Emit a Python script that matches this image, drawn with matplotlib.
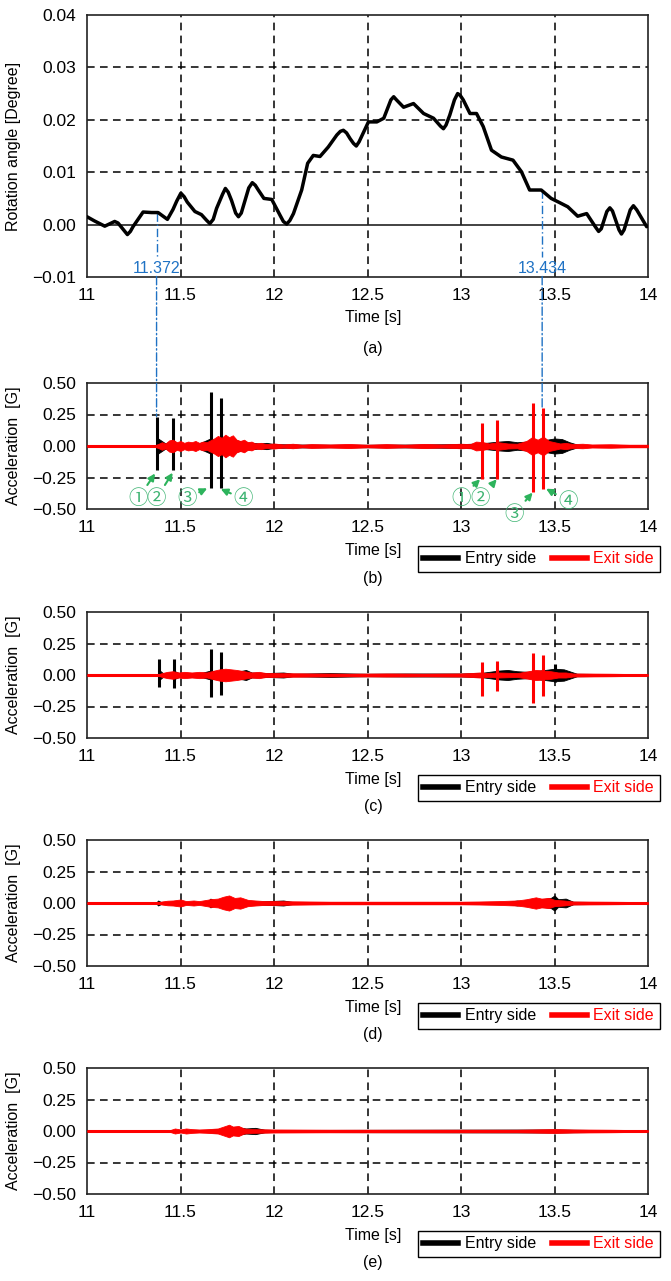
import numpy as np
import matplotlib.pyplot as plt
from matplotlib.patches import ConnectionPatch
from matplotlib.lines import Line2D

plt.rcParams['font.family'] = ['Liberation Sans', 'DejaVu Sans']
plt.rcParams['font.size'] = 11.5

# (a) rotation angle
rot_t = [11.0, 11.04, 11.095, 11.148, 11.166, 11.2, 11.216, 11.232, 11.246, 11.3,
         11.345, 11.38, 11.43, 11.46, 11.48, 11.502, 11.52, 11.536, 11.577, 11.612,
         11.64, 11.657, 11.675, 11.693, 11.725, 11.74, 11.755, 11.773, 11.795, 11.81,
         11.825, 11.845, 11.865, 11.884, 11.9, 11.916, 11.946, 11.988, 12.032, 12.05,
         12.068, 12.085, 12.104, 12.148, 12.18, 12.21, 12.246, 12.29, 12.336, 12.355,
         12.371, 12.388, 12.407, 12.425, 12.44, 12.455, 12.48, 12.505, 12.55, 12.587,
         12.625, 12.64, 12.655, 12.693, 12.746, 12.8, 12.853, 12.89, 12.906, 12.92,
         12.94, 12.965, 12.982, 12.995, 13.012, 13.048, 13.083, 13.119, 13.163, 13.216,
         13.278, 13.323, 13.367, 13.429, 13.482, 13.527, 13.571, 13.624, 13.672, 13.72,
         13.736, 13.75, 13.78, 13.796, 13.81, 13.845, 13.858, 13.872, 13.905, 13.922,
         13.94, 13.993]
rot_v = [0.0015, 0.0007, -0.0003, 0.0006, 0.0003, -0.0012, -0.0019, -0.0013, -0.0004, 0.0024,
         0.0023, 0.0023, 0.0010, 0.0029, 0.0045, 0.0060, 0.0053, 0.0043, 0.0025, 0.0019,
         0.0008, 0.0002, 0.0010, 0.0031, 0.0058, 0.0069, 0.0062, 0.0046, 0.0022, 0.0015,
         0.0022, 0.0046, 0.0070, 0.0080, 0.0075, 0.0066, 0.0050, 0.0048, 0.0018, 0.0006,
         0.0001, 0.0008, 0.0021, 0.0066, 0.0117, 0.0132, 0.0130, 0.0148, 0.0171, 0.0178,
         0.0180, 0.0175, 0.0164, 0.0155, 0.0150, 0.0158, 0.0177, 0.0196, 0.0196, 0.0203,
         0.0238, 0.0244, 0.0238, 0.0224, 0.0231, 0.0212, 0.0203, 0.0188, 0.0183, 0.0190,
         0.0209, 0.0238, 0.0250, 0.0247, 0.0238, 0.0212, 0.0212, 0.0187, 0.0142, 0.0129,
         0.0123, 0.0101, 0.0066, 0.0066, 0.0050, 0.0042, 0.0034, 0.0016, 0.0021, -0.0005,
         -0.0013, -0.0008, 0.0025, 0.0032, 0.0026, -0.0010, -0.0018, -0.0010, 0.0028, 0.0036,
         0.0028, -0.0004]

mark_t = [11.372, 13.434]
mark_v = [0.0023, 0.0066]
mark_top_b = [0.235, 0.30]

# acceleration panels (b)-(e): spikes (time, max, min)
entry_spike_t = [[11.375, 11.462, 11.661, 11.715],
                 [11.385, 11.467, 11.663, 11.717, 13.50],
                 [], []]
entry_spike_hi = [[0.233, 0.22, 0.43, 0.378],
                  [0.125, 0.13, 0.21, 0.186, 0.086],
                  [], []]
entry_spike_lo = [[-0.19, -0.19, -0.336, -0.33],
                  [-0.096, -0.107, -0.176, -0.155, -0.056],
                  [], []]
exit_spike_t = [[13.11, 13.194, 13.387, 13.44],
                [13.112, 13.193, 13.387, 13.44],
                [], []]
exit_spike_hi = [[0.18, 0.21, 0.344, 0.30],
                 [0.104, 0.11, 0.174, 0.16],
                 [], []]
exit_spike_lo = [[-0.264, -0.264, -0.363, -0.344],
                 [-0.163, -0.128, -0.222, -0.163],
                 [], []]

# vibration envelopes (half width of the band, G)
entry_noise_t = [
    [11.0, 11.37, 11.38, 11.40, 11.42, 11.46, 11.48, 11.52, 11.6, 11.66, 11.69, 11.72, 11.76,
     11.8, 11.84, 11.88, 11.92, 11.96, 12.0, 12.1, 12.3, 12.5, 12.8, 13.0, 13.1, 13.2, 13.25,
     13.3, 13.35, 13.4, 13.46, 13.5, 13.54, 13.58, 13.62, 13.7, 14.0],
    [11.0, 11.38, 11.39, 11.41, 11.47, 11.5, 11.6, 11.66, 11.7, 11.74, 11.8, 11.85, 11.88,
     11.95, 12.05, 12.1, 12.3, 12.5, 12.7, 13.0, 13.1, 13.2, 13.25, 13.3, 13.36, 13.45, 13.5,
     13.55, 13.58, 13.62, 14.0],
    [11.0, 11.37, 11.38, 11.4, 11.64, 11.66, 11.68, 11.72, 11.85, 11.9, 12.05, 12.1, 13.25,
     13.3, 13.35, 13.48, 13.5, 13.52, 13.56, 13.6, 14.0],
    [11.0, 11.6, 11.7, 11.75, 11.8, 11.85, 11.9, 11.95, 12.0, 13.5, 13.6, 14.0]]
entry_noise_a = [
    [0.003, 0.003, 0.06, 0.04, 0.02, 0.05, 0.02, 0.015, 0.02, 0.06, 0.04, 0.06, 0.05,
     0.045, 0.03, 0.025, 0.02, 0.025, 0.015, 0.012, 0.01, 0.01, 0.012, 0.015, 0.02, 0.035, 0.04,
     0.03, 0.035, 0.03, 0.05, 0.06, 0.055, 0.03, 0.012, 0.006, 0.004],
    [0.003, 0.003, 0.035, 0.01, 0.03, 0.01, 0.012, 0.035, 0.025, 0.03, 0.025, 0.04, 0.02,
     0.015, 0.02, 0.01, 0.015, 0.01, 0.012, 0.012, 0.015, 0.035, 0.04, 0.03, 0.025, 0.04, 0.05,
     0.045, 0.03, 0.01, 0.004],
    [0.002, 0.002, 0.02, 0.005, 0.005, 0.035, 0.02, 0.01, 0.02, 0.01, 0.02, 0.008, 0.008,
     0.02, 0.01, 0.04, 0.06, 0.03, 0.035, 0.01, 0.003],
    [0.002, 0.005, 0.015, 0.025, 0.03, 0.02, 0.025, 0.01, 0.008, 0.012, 0.01, 0.003]]
exit_noise_t = [
    [11.0, 11.36, 11.38, 11.40, 11.42, 11.44, 11.46, 11.48, 11.50, 11.52, 11.54, 11.56, 11.58,
     11.60, 11.62, 11.64, 11.66, 11.68, 11.70, 11.72, 11.74, 11.76, 11.78, 11.80, 11.82, 11.84,
     11.86, 11.88, 11.90, 11.93, 11.96, 12.0, 12.05, 12.1, 12.15, 12.2, 12.3, 12.4, 12.5, 12.6,
     12.7, 12.8, 12.9, 13.0, 13.05, 13.08, 13.12, 13.15, 13.2, 13.25, 13.3, 13.35, 13.38, 13.41,
     13.44, 13.47, 13.5, 13.53, 13.56, 13.6, 13.65, 13.7, 13.8, 13.9, 14.0],
    [11.0, 11.38, 11.40, 11.43, 11.46, 11.49, 11.52, 11.56, 11.6, 11.64, 11.68, 11.71, 11.74,
     11.77, 11.8, 11.84, 11.88, 11.92, 11.96, 12.0, 12.2, 12.4, 12.6, 12.8, 13.0, 13.05, 13.1,
     13.15, 13.2, 13.3, 13.36, 13.4, 13.44, 13.48, 13.52, 13.56, 13.6, 13.8, 14.0],
    [11.0, 11.38, 11.40, 11.43, 11.46, 11.5, 11.53, 11.57, 11.6, 11.66, 11.7, 11.73, 11.76,
     11.79, 11.82, 11.86, 11.9, 11.95, 12.0, 12.3, 12.6, 13.0, 13.1, 13.2, 13.3, 13.35, 13.4,
     13.43, 13.47, 13.5, 13.55, 13.6, 13.8, 14.0],
    [11.0, 11.44, 11.47, 11.5, 11.53, 11.56, 11.6, 11.65, 11.7, 11.74, 11.76, 11.78, 11.81,
     11.84, 11.88, 12.0, 12.3, 12.6, 13.0, 13.3, 13.5, 13.6, 13.8, 14.0]]
exit_noise_a = [
    [0.006, 0.006, 0.015, 0.03, 0.02, 0.045, 0.05, 0.03, 0.04, 0.025, 0.035, 0.03, 0.04,
     0.025, 0.035, 0.03, 0.045, 0.06, 0.08, 0.065, 0.09, 0.07, 0.085, 0.05, 0.04, 0.05,
     0.03, 0.035, 0.02, 0.025, 0.015, 0.02, 0.012, 0.018, 0.01, 0.015, 0.012, 0.016, 0.01, 0.015,
     0.01, 0.016, 0.012, 0.018, 0.015, 0.035, 0.03, 0.02, 0.03, 0.02, 0.018, 0.04, 0.07, 0.05,
     0.075, 0.04, 0.03, 0.02, 0.025, 0.015, 0.018, 0.012, 0.014, 0.01, 0.01],
    [0.005, 0.005, 0.015, 0.025, 0.03, 0.02, 0.025, 0.02, 0.025, 0.02, 0.035, 0.045, 0.05,
     0.045, 0.04, 0.03, 0.02, 0.025, 0.015, 0.015, 0.012, 0.01, 0.012, 0.01, 0.012, 0.015, 0.02,
     0.015, 0.02, 0.015, 0.03, 0.04, 0.035, 0.03, 0.02, 0.02, 0.012, 0.01, 0.006],
    [0.005, 0.005, 0.012, 0.018, 0.02, 0.028, 0.015, 0.02, 0.015, 0.03, 0.035, 0.05, 0.06,
     0.04, 0.045, 0.025, 0.02, 0.015, 0.015, 0.01, 0.01, 0.01, 0.012, 0.015, 0.02, 0.03, 0.045,
     0.035, 0.04, 0.025, 0.02, 0.012, 0.01, 0.007],
    [0.005, 0.005, 0.02, 0.012, 0.02, 0.015, 0.012, 0.015, 0.02, 0.04, 0.05, 0.035, 0.04,
     0.02, 0.015, 0.012, 0.01, 0.01, 0.01, 0.01, 0.015, 0.012, 0.01, 0.006]]

# circled-number callouts on panel (b): label, text pos, arrow tip
callouts = [('①', 11.275, -0.415, 11.364, -0.218),
            ('②', 11.372, -0.415, 11.458, -0.212),
            ('③', 11.533, -0.415, 11.643, -0.336),
            ('④', 11.836, -0.42, 11.715, -0.341),
            ('①', 13.0, -0.415, 13.102, -0.264),
            ('②', 13.103, -0.415, 13.191, -0.264),
            ('③', 13.283, -0.54, 13.383, -0.37),
            ('④', 13.574, -0.437, 13.455, -0.339)]

panel_names = ['(b)', '(c)', '(d)', '(e)']
xticks = [11, 11.5, 12, 12.5, 13, 13.5, 14]
xticklabels = ['11', '11.5', '12', '12.5', '13', '13.5', '14']

W, H = 671, 1281
fig = plt.figure(figsize=(W / 100, H / 100), dpi=100)

def rect(top, bottom, left=87, right=648):
    return [left / W, 1 - bottom / H, (right - left) / W, (bottom - top) / H]

dash = (0, (5, 3.5))
blue = '#1f72c4'
green = '#2db35c'

def style(ax):
    for s in ax.spines.values():
        s.set_linewidth(1.2)
        s.set_color('#222222')
    ax.tick_params(length=0, pad=8, labelsize=12.5)
    ax.set_xlim(11, 14)
    ax.set_xticks(xticks)
    ax.set_xticklabels(xticklabels)
    for x in xticks[1:-1]:
        ax.axvline(x, color='black', lw=1.1, ls=dash, zorder=0.5)

# ---- (a)
ax_a = fig.add_axes(rect(15, 277))
style(ax_a)
ax_a.set_ylim(-0.01, 0.04)
ax_a.set_yticks([-0.01, 0.0, 0.01, 0.02, 0.03, 0.04])
ax_a.set_yticklabels(['\u22120.01', '0.00', '0.01', '0.02', '0.03', '0.04'])
for y in [0.01, 0.02, 0.03]:
    ax_a.axhline(y, color='black', lw=1.1, ls=dash, zorder=0.5)
ax_a.axhline(0, color='#222222', lw=1.2, zorder=0.6)
ax_a.plot(rot_t, rot_v, color='black', lw=2.5, zorder=3,
          solid_joinstyle='round', solid_capstyle='round')
ax_a.set_ylabel('Rotation angle [Degree]', fontsize=11.5)
ax_a.yaxis.set_label_coords(-0.118, 0.5)
ax_a.set_xlabel('Time [s]', fontsize=11.5)
ax_a.xaxis.set_label_coords(0.51, -0.125)
fig.text(373 / W, 1 - 348 / H, '(a)', ha='center', va='center', fontsize=11.5)

# ---- (b)-(e)
tops = [383, 612, 840, 1068]
axes = []
for i, top in enumerate(tops):
    ax = fig.add_axes(rect(top, top + 126))
    style(ax)
    ax.set_ylim(-0.5, 0.5)
    ax.set_yticks([-0.5, -0.25, 0, 0.25, 0.5])
    ax.set_yticklabels(['\u22120.50', '\u22120.25', '0.00', '0.25', '0.50'])
    for y in [-0.25, 0.25]:
        ax.axhline(y, color='black', lw=1.1, ls=dash, zorder=0.5)

    ax.plot([11, 14], [0, 0], color='black', lw=2, zorder=1)
    ax.fill_between(entry_noise_t[i], [-a for a in entry_noise_a[i]], entry_noise_a[i],
                    color='black', lw=0.6, zorder=1.5)
    if entry_spike_t[i]:
        ax.vlines(entry_spike_t[i], entry_spike_lo[i], entry_spike_hi[i],
                  color='black', lw=2.2, zorder=2)
    ax.plot([11, 14], [0, 0], color='#ff0000', lw=2.2, zorder=2.5)
    ax.fill_between(exit_noise_t[i], [-a for a in exit_noise_a[i]], exit_noise_a[i],
                    color='#ff0000', lw=0.6, zorder=2.6)
    if exit_spike_t[i]:
        ax.vlines(exit_spike_t[i], exit_spike_lo[i], exit_spike_hi[i],
                  color='#ff0000', lw=2.2, zorder=2.7)

    ax.set_ylabel('Acceleration  [G]', fontsize=11.5)
    ax.yaxis.set_label_coords(-0.118, 0.5)
    ax.set_xlabel('Time [s]', fontsize=11.5)
    ax.xaxis.set_label_coords(0.51, -0.27)

    handles = [Line2D([], [], color='black', lw=4), Line2D([], [], color='#ff0000', lw=4)]
    leg = ax.legend(handles, ['Entry side', 'Exit side'], ncol=2, loc='center',
                    bbox_to_anchor=(0.805, -0.395), bbox_transform=ax.transAxes,
                    frameon=True, fancybox=False, edgecolor='black', framealpha=1,
                    fontsize=11.5, handlelength=2.2, handletextpad=0.4,
                    columnspacing=1.0, borderpad=0.35)
    leg.get_frame().set_linewidth(1.0)
    leg.get_texts()[1].set_color('#ff0000')
    fig.text(373 / W, 1 - (top + 126 + 69) / H, panel_names[i],
             ha='center', va='center', fontsize=11.5)
    axes.append(ax)

ax_b = axes[0]

# blue marker lines linking (a) to (b)
for t, v, vb in zip(mark_t, mark_v, mark_top_b):
    ax_a.plot([t, t], [v, -0.0062], color=blue, lw=1.0, ls=(0, (6, 2, 1, 2)), zorder=2)
    ax_a.text(t, -0.0083, f'{t:.3f}', color=blue, ha='center', va='center', fontsize=11.5)
    con = ConnectionPatch(xyA=(t, -0.0099), coordsA=ax_a.transData,
                          xyB=(t, vb), coordsB=ax_b.transData,
                          color=blue, lw=1.0, ls=(0, (6, 2, 1, 2)))
    fig.add_artist(con)

# numbered callouts
for lab, tx, ty, ax_, ay in callouts:
    ax_b.annotate(lab, xy=(ax_, ay), xytext=(tx, ty), textcoords='data',
                  color='#3cb371', fontsize=14, ha='center', va='center',
                  family=['Noto Sans CJK JP', 'DejaVu Sans'], annotation_clip=False,
                  arrowprops=dict(arrowstyle='-|>', color=green, lw=1.5,
                                  shrinkA=0, shrinkB=0, mutation_scale=10))

fig.savefig('out.png', dpi=100)
